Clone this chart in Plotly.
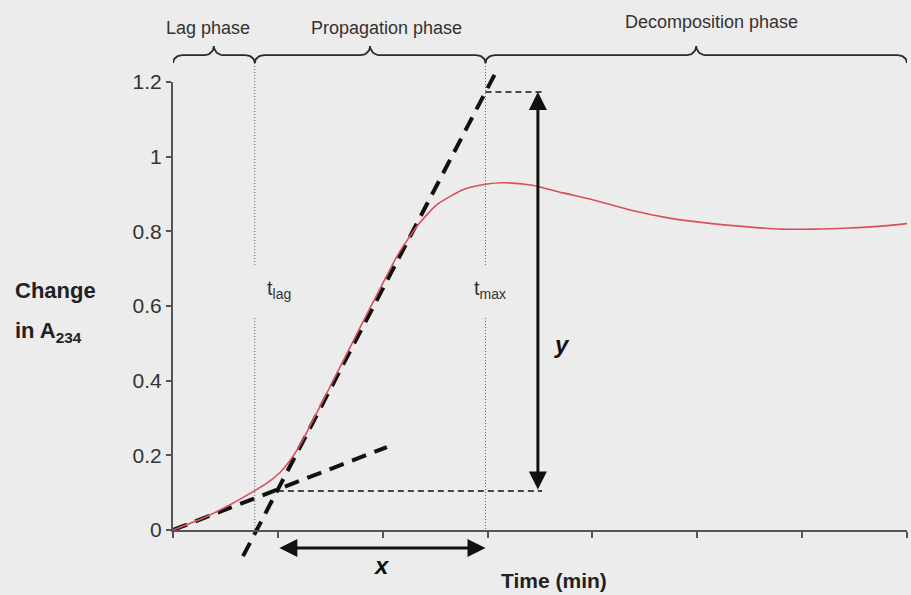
import numpy as np
import plotly.graph_objects as go

# ---------------- data ----------------
curve_t = [0, 0.29, 0.54, 0.76, 0.9, 1.02, 1.1, 1.2, 1.3, 1.4, 1.6, 1.82, 2.0, 2.14,
           2.33, 2.52, 2.77, 2.98, 3.15, 3.41, 3.72, 4.01, 4.36, 4.72, 5.1, 5.48, 5.8,
           6.11, 6.44, 6.75, 7.05]
curve_a = [0, 0.032, 0.067, 0.102, 0.126, 0.154, 0.180, 0.222, 0.275, 0.33, 0.44,
           0.562, 0.66, 0.735, 0.815, 0.872, 0.912, 0.926, 0.930, 0.924, 0.903, 0.884,
           0.857, 0.836, 0.822, 0.812, 0.806, 0.806, 0.809, 0.814, 0.822]

steep_x = [0.668, 3.10]
steep_y = [-0.070, 1.2375]
low_x = [0, 2.04]
low_y = [0, 0.222]

t_lag = 0.78
t_max = 2.98
x_cross = 1.00          # intersection of the tangents
y_low_level = 0.1045
y_high_level = 1.173
arrow_x = 3.48
dash_end = 3.52
arrow_x_level = -0.048

phase_bounds = [0, t_lag, t_max, 7.0]
phase_names = ["Lag phase", "Propagation phase", "Decomposition phase"]
phase_label_x = [0.334, 2.04, 5.14]
phase_label_y = [1.345, 1.345, 1.361]

y_ticks = [0, 0.2, 0.4, 0.6, 0.8, 1.0, 1.2]
y_tick_text = ["0", "0.2", "0.4", "0.6", "0.8", "1", "1.2"]
x_ticks = [0, 1, 2, 3, 4, 5, 6, 7]

# ---------------- geometry ----------------
W, H = 911, 595
ML, MR = 173, 4
Y0_PX, Y12_PX = 530, 82
ppu = (Y0_PX - Y12_PX) / 1.2
YMIN = -(H - Y0_PX) / ppu
YMAX = Y0_PX / ppu
dom2 = [(0 - YMIN) / (YMAX - YMIN), (1.2 - YMIN) / (YMAX - YMIN)]
plot_w = W - ML - MR

FONT = "Liberation Sans, Arial, sans-serif"
BG = "#ececec"

fig = go.Figure()

# red curve (on the axis that carries the ticks)
fig.add_trace(go.Scatter(x=curve_t, y=curve_a, mode="lines", xaxis="x", yaxis="y2",
                         line=dict(color="#d9505a", width=1.6, shape="spline", smoothing=0.6),
                         hoverinfo="skip", showlegend=False))

def line(xs, ys, color, width, dash):
    fig.add_trace(go.Scatter(x=xs, y=ys, mode="lines", xaxis="x", yaxis="y",
                             line=dict(color=color, width=width, dash=dash),
                             hoverinfo="skip", showlegend=False, connectgaps=False))

# dotted verticals at t_lag and t_max (broken around labels)
for tx in [t_lag, t_max]:
    line([tx, tx, None, tx, tx], [1.251, 0.705, None, 0.568, 0], "#606060", 1, "1px,2px")

# thin dashed horizontals
line([x_cross, dash_end], [y_low_level, y_low_level], "#111", 1.5, "6px,4px")
line([t_max, dash_end], [y_high_level, y_high_level], "#111", 1.5, "6px,4px")

# tangents
line(steep_x, steep_y, "#111", 4, "15px,9px")
line(low_x, low_y, "#111", 4, "15px,9px")

# braces
def brace(xa, xb, y_line=1.272, y_end=1.251, y_tip=1.296, r=0.09):
    xm = (xa + xb) / 2
    th = np.linspace(0, np.pi / 2, 12)
    xs, ys = [], []
    xs += list(xa + r * (1 - np.cos(th))); ys += list(y_end + (y_line - y_end) * np.sin(th))
    xs += list(xm - r + r * np.sin(th)); ys += list(y_line + (y_tip - y_line) * (1 - np.cos(th)))
    xs += list(xm + r - r * np.cos(th)); ys += list(y_tip - (y_tip - y_line) * np.sin(th))
    xs += list(xb - r + r * np.sin(th)); ys += list(y_line - (y_line - y_end) * (1 - np.cos(th)))
    line(xs, ys, "#2a2a2a", 1.8, "solid")

for i in range(3):
    brace(phase_bounds[i], phase_bounds[i + 1])

annotations = []
for name, lx, ly in zip(phase_names, phase_label_x, phase_label_y):
    annotations.append(dict(x=lx, y=ly, xref="x", yref="y", text=name, showarrow=False,
                            font=dict(family=FONT, size=18, color="#333")))

# arrows
annotations.append(dict(x=arrow_x, y=y_high_level, ax=arrow_x, ay=y_low_level,
                        xref="x", yref="y", axref="x", ayref="y", text="", showarrow=True,
                        arrowside="end+start", arrowhead=2, arrowsize=1.2, arrowwidth=3,
                        arrowcolor="#111", standoff=0, startstandoff=0))
annotations.append(dict(x=t_max, y=arrow_x_level, ax=x_cross, ay=arrow_x_level,
                        xref="x", yref="y", axref="x", ayref="y", text="", showarrow=True,
                        arrowside="end+start", arrowhead=2, arrowsize=1.2, arrowwidth=3,
                        arrowcolor="#111", standoff=0, startstandoff=0))

annotations.append(dict(x=3.71, y=0.496, xref="x", yref="y", text="<b><i>y</i></b>",
                        showarrow=False, font=dict(family=FONT, size=24, color="#111")))
annotations.append(dict(x=1.99, y=-0.096, xref="x", yref="y", text="<b><i>x</i></b>",
                        showarrow=False, font=dict(family=FONT, size=24, color="#111")))

annotations.append(dict(x=0.875, y=0.643, xref="x", yref="y", xanchor="left",
                        text="t<sub>lag</sub>", showarrow=False,
                        font=dict(family=FONT, size=20, color="#333")))
annotations.append(dict(x=2.85, y=0.643, xref="x", yref="y", xanchor="left",
                        text="t<sub>max</sub>", showarrow=False,
                        font=dict(family=FONT, size=20, color="#333")))

annotations.append(dict(x=(13 - ML) / plot_w, y=(Y0_PX - 290) / ppu, xref="paper", yref="y",
                        xanchor="left", text="<b>Change</b>", showarrow=False,
                        font=dict(family=FONT, size=22, color="#222")))
annotations.append(dict(x=(13 - ML) / plot_w, y=(Y0_PX - 332) / ppu, xref="paper", yref="y",
                        xanchor="left", text="<b>in A<sub>234</sub></b>", showarrow=False,
                        font=dict(family=FONT, size=22, color="#222")))
annotations.append(dict(x=3.11, y=(Y0_PX - 580) / ppu, xref="x", yref="y",
                        xanchor="left", text="<b>Time (min)</b>", showarrow=False,
                        font=dict(family=FONT, size=21, color="#222")))

fig.update_layout(
    width=W, height=H,
    margin=dict(l=ML, r=MR, t=0, b=0, pad=0, autoexpand=False),
    paper_bgcolor=BG, plot_bgcolor="rgba(0,0,0,0)",
    showlegend=False,
    xaxis=dict(range=[0, 7.0], anchor="y2", showgrid=False, zeroline=False, automargin=False,
               showline=True, linecolor="#555", linewidth=2,
               ticks="outside", ticklen=6, tickwidth=2, tickcolor="#555",
               tickvals=x_ticks, showticklabels=False, fixedrange=True),
    yaxis=dict(range=[YMIN, YMAX], domain=[0, 1], visible=False, fixedrange=True,
               automargin=False),
    yaxis2=dict(range=[0, 1.2], domain=dom2, anchor="x", showgrid=False, zeroline=False,
                automargin=False,
                showline=True, linecolor="#555", linewidth=2,
                ticks="outside", ticklen=5, tickwidth=2, tickcolor="#555",
                tickvals=y_ticks, ticktext=y_tick_text,
                tickfont=dict(family=FONT, size=21, color="#333"), fixedrange=True),
    annotations=annotations,
)

fig.write_html("out.html")
